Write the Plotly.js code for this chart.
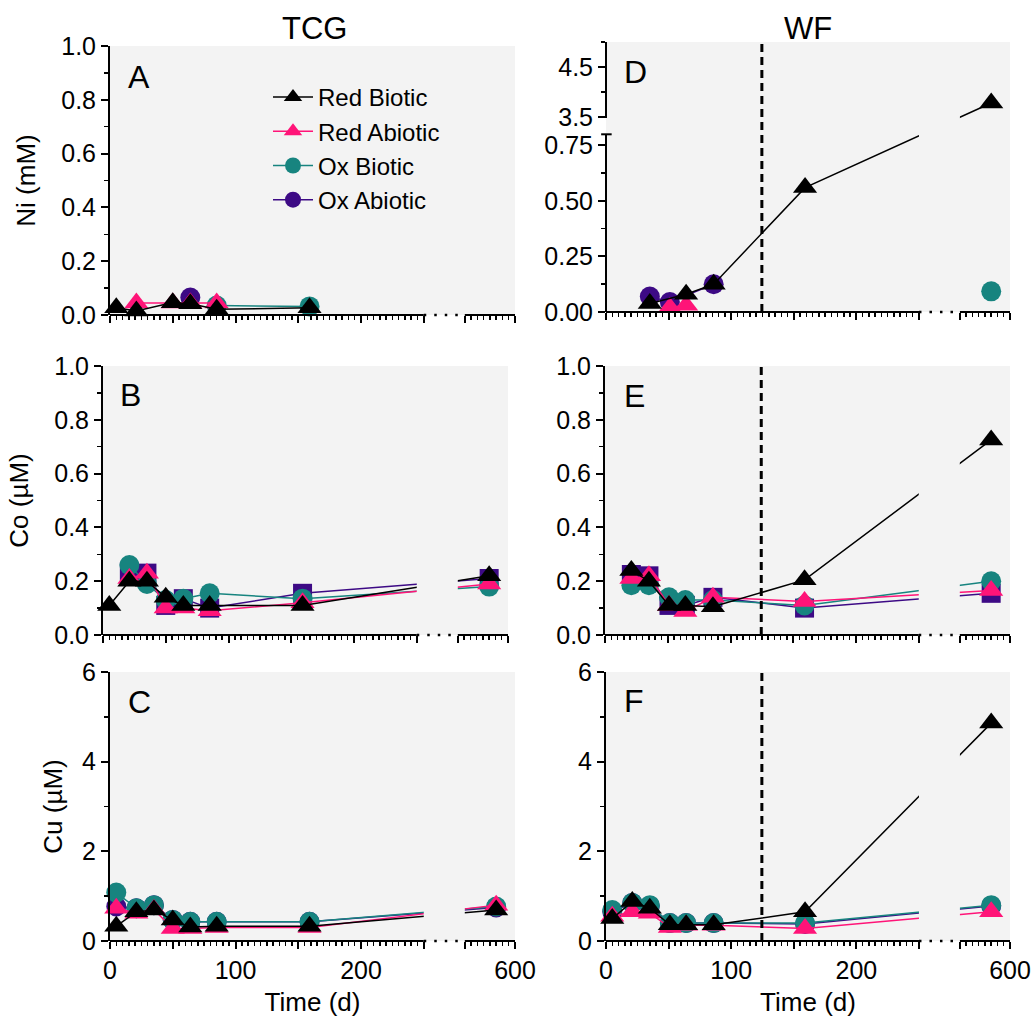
<!DOCTYPE html>
<html>
<head>
<meta charset="utf-8">
<script src="https://cdn.plot.ly/plotly-3.0.1.min.js"></script>
<style>
html,body{margin:0;padding:0;background:#ffffff;}
#chart{width:1033px;height:1017px;}
</style>
</head>
<body>
<div id="chart"></div>
<script>
// ================= DATA =================
const seriesNames = ['Red Biotic', 'Red Abiotic', 'Ox Biotic', 'Ox Abiotic'];
const columnTitles = ['TCG', 'WF'];
const panelLetters = ['A', 'B', 'C', 'D', 'E', 'F'];
const yTitles = ['Ni (mM)', 'Co (µM)', 'Cu (µM)'];
const xTitle = 'Time (d)';

// sampling days (the last sample sits on the far side of the axis break)
const daysTCG = [5, 21, 35, 50, 64, 85, 159, 585];
const daysWF  = [5, 21, 35, 51, 64, 86, 159, 585];

// Panel A: Ni (mM), TCG
const niTCG_redBiotic  = [0.027, 0.015, null, 0.046, 0.042, 0.021, 0.027, null];
const niTCG_redAbiotic = [null, 0.045, null, 0.045, 0.045, 0.045, null, null];
const niTCG_oxBiotic   = [null, null, null, null, null, 0.035, 0.032, null];
const niTCG_oxAbiotic  = [null, null, null, null, 0.065, null, null, null];

// Panel B: Co (µM), TCG
const coTCG_redBiotic  = [0.11, 0.20, 0.20, 0.14, 0.11, 0.11, 0.11, 0.22];
const coTCG_redAbiotic = [null, 0.21, 0.23, 0.10, 0.10, 0.09, 0.12, 0.19];
const coTCG_oxBiotic   = [null, 0.26, 0.19, 0.13, 0.135, 0.155, 0.135, 0.18];
const coTCG_oxAbiotic  = [null, 0.235, 0.23, 0.11, 0.135, 0.10, 0.155, 0.21];

// Panel C: Cu (µM), TCG
const cuTCG_redBiotic  = [0.33, 0.65, 0.69, 0.47, 0.31, 0.33, 0.33, 0.69];
const cuTCG_redAbiotic = [0.73, 0.62, 0.70, 0.28, 0.28, 0.30, 0.30, 0.80];
const cuTCG_oxBiotic   = [1.08, 0.73, 0.80, 0.47, 0.43, 0.43, 0.43, 0.77];
const cuTCG_oxAbiotic  = [0.77, 0.73, 0.80, 0.47, 0.43, 0.43, 0.43, 0.75];

// Panel D: Ni (mM), WF
const niWF_redBiotic  = [null, null, 0.038, null, 0.08, 0.125, 0.56, 3.78];
const niWF_redAbiotic = [null, null, null, 0.02, 0.03, null, null, null];
const niWF_oxBiotic   = [null, null, null, null, null, null, null, 0.093];
const niWF_oxAbiotic  = [null, null, 0.07, 0.045, null, 0.125, null, null];

// Panel E: Co (µM), WF
const coWF_redBiotic  = [null, 0.24, 0.20, 0.11, 0.11, 0.105, 0.205, 0.725];
const coWF_redAbiotic = [null, 0.21, 0.22, 0.11, 0.087, 0.14, 0.125, 0.165];
const coWF_oxBiotic   = [null, 0.185, 0.185, 0.14, 0.13, 0.13, 0.11, 0.20];
const coWF_oxAbiotic  = [null, 0.225, 0.22, 0.11, 0.11, 0.14, 0.10, 0.155];

// Panel F: Cu (µM), WF
const cuWF_redBiotic  = [0.50, 0.88, 0.73, 0.36, 0.36, 0.36, 0.65, 4.86];
const cuWF_redAbiotic = [0.55, 0.65, 0.62, 0.30, 0.35, 0.35, 0.28, 0.65];
const cuWF_oxBiotic   = [0.69, 0.85, 0.80, 0.40, 0.40, 0.40, 0.40, 0.80];
const cuWF_oxAbiotic  = [0.65, 0.85, 0.78, 0.40, 0.40, 0.40, 0.38, 0.78];

// tick labels
const xTickVals  = [0, 50, 100, 150, 200, 250, 560, 600];
const xTickText  = ['0', '', '100', '', '200', '', '', '600'];
const niWFTickVals = [0, 0.25, 0.5, 0.75, 3.5, 4.5];
const niWFTickText = ['0.00', '0.25', '0.50', '0.75', '3.5', '4.5'];
const niWFMinorVals = [0.125, 0.375, 0.625, 4.0, 5.0];

// day of the vertical dashed marker in the WF column
const WF_MARKER_DAY = 124.5;

// ================= STYLE / GEOMETRY =================
const W = 1033, H = 1017;
const FONT = 'Liberation Sans, Arial, Helvetica, sans-serif';
const BG = '#f3f3f3';
const seriesColors = ['#000000', '#ff1478', '#17847f', '#3d0a85'];
const seriesSymbols = ['triangle-up', 'triangle-up', 'circle', 'circle'];
const seriesSizes = [21, 21, 20, 20];
const SQUARE_SIZE = 19;

// broken x axis: [0,250] then [560,600]
const SEG1_END = 250, SEG2_START = 560, SEG2_END = 600, XGAP = 32.7;
function mapX(d) { return d <= SEG1_END ? d : SEG1_END + XGAP + (d - SEG2_START); }
const XMAX = mapX(SEG2_END);

// broken y axis for panel D: [0,0.8] then [3.5,5.0]
const YD_LOW_END = 0.8, YD_HIGH_START = 3.5, YD_HIGH_END = 5.0, YD_GAP = 0.078, YD_HIGH_SCALE = 0.225;
function mapYD(v) {
  if (v === null) return null;
  return v <= YD_LOW_END ? v : YD_LOW_END + YD_GAP + (v - YD_HIGH_START) * YD_HIGH_SCALE;
}

const panels = [
  {days: daysTCG, series: [niTCG_redBiotic, niTCG_redAbiotic, niTCG_oxBiotic, niTCG_oxAbiotic],
   px: [110, 515], py: [46, 315], ymax: 1, dtick: 0.2, minor: 0.1, fmt: '.1f', yTitle: yTitles[0], bottom: false, oxAbSymbol: 'circle', letterPos: [126, 77]},
  {days: daysTCG, series: [coTCG_redBiotic, coTCG_redAbiotic, coTCG_oxBiotic, coTCG_oxAbiotic],
   px: [103, 508], py: [366, 635], ymax: 1, dtick: 0.2, minor: 0.1, fmt: '.1f', yTitle: yTitles[1], bottom: false, oxAbSymbol: 'square', letterPos: [118, 395]},
  {days: daysTCG, series: [cuTCG_redBiotic, cuTCG_redAbiotic, cuTCG_oxBiotic, cuTCG_oxAbiotic],
   px: [110, 515], py: [672, 941], ymax: 6, dtick: 2, minor: 1, fmt: 'd', yTitle: yTitles[2], bottom: true, oxAbSymbol: 'circle', letterPos: [126, 702]},
  {days: daysWF, series: [niWF_redBiotic, niWF_redAbiotic, niWF_oxBiotic, niWF_oxAbiotic],
   px: [606, 1010], py: [42, 312], broken: true, yTitle: null, bottom: false, oxAbSymbol: 'circle', letterPos: [622, 72], wf: true},
  {days: daysWF, series: [coWF_redBiotic, coWF_redAbiotic, coWF_oxBiotic, coWF_oxAbiotic],
   px: [605, 1010], py: [366, 635], ymax: 1, dtick: 0.2, minor: 0.1, fmt: '.1f', yTitle: null, bottom: false, oxAbSymbol: 'square', letterPos: [622, 396], wf: true},
  {days: daysWF, series: [cuWF_redBiotic, cuWF_redAbiotic, cuWF_oxBiotic, cuWF_oxAbiotic],
   px: [606, 1010], py: [672, 941], ymax: 6, dtick: 2, minor: 1, fmt: 'd', yTitle: null, bottom: true, oxAbSymbol: 'circle', letterPos: [622, 701], wf: true}
];

// minor x ticks every 5 d
const xMinor = [];
for (let d = 5; d < SEG1_END; d += 5) if (d % 50 !== 0) xMinor.push(d);
for (let d = SEG2_START + 5; d < SEG2_END; d += 5) xMinor.push(mapX(d));

const data = [];
const layout = {
  width: W, height: H,
  margin: {l: 0, r: 0, t: 0, b: 0},
  paper_bgcolor: '#ffffff',
  plot_bgcolor: BG,
  font: {family: FONT, color: '#000', size: 25},
  showlegend: true,
  legend: {
    x: 268 / W, y: 1 - 75 / H, xanchor: 'left', yanchor: 'top',
    bgcolor: 'rgba(0,0,0,0)', borderwidth: 0,
    font: {family: FONT, size: 24, color: '#000'},
    itemwidth: 40, tracegroupgap: 0
  },
  shapes: [],
  annotations: []
};

panels.forEach((p, k) => {
  const i = k + 1;
  const sfx = i === 1 ? '' : String(i);
  const xa = 'x' + sfx, ya = 'y' + sfx;
  const yfun = p.broken ? mapYD : (v => v);

  // traces: drawn purple, teal, pink, black (black on top)
  [3, 2, 1, 0].forEach(s => {
    const sym = s === 3 ? p.oxAbSymbol : seriesSymbols[s];
    data.push({
      type: 'scatter', mode: 'lines+markers',
      name: seriesNames[s],
      x: p.days.map(mapX),
      y: p.series[s].map(yfun),
      xaxis: xa, yaxis: ya,
      connectgaps: true, cliponaxis: false,
      line: {color: seriesColors[s], width: 1.5},
      marker: {symbol: sym, size: sym === 'square' ? SQUARE_SIZE : seriesSizes[s], color: seriesColors[s], line: {width: 0}},
      showlegend: i === 1, legendrank: s + 1,
      hoverinfo: 'skip'
    });
  });

  layout['xaxis' + sfx] = {
    domain: [p.px[0] / W, p.px[1] / W], anchor: ya,
    range: [0, XMAX], showline: false, zeroline: false, showgrid: false,
    tickmode: 'array', tickvals: xTickVals.map(mapX), ticktext: xTickText,
    ticks: 'outside', ticklen: 7, tickwidth: 2, tickcolor: '#000',
    showticklabels: p.bottom,
    tickfont: {family: FONT, size: 25, color: '#000'},
    minor: {tickmode: 'array', tickvals: xMinor, ticks: 'outside', ticklen: 4, tickwidth: 1.5, tickcolor: '#000', showgrid: false},
    title: p.bottom ? {text: xTitle, font: {family: FONT, size: 26, color: '#000'}, standoff: 14} : {text: ''},
    fixedrange: true
  };

  const yax = {
    domain: [1 - p.py[1] / H, 1 - p.py[0] / H], anchor: xa,
    zeroline: false, showgrid: false,
    ticks: 'outside', ticklen: 7, tickwidth: 2, tickcolor: '#000',
    tickfont: {family: FONT, size: 25, color: '#000'},
    title: p.yTitle ? {text: p.yTitle, font: {family: FONT, size: 26, color: '#000'}, standoff: p.dtick === 2 ? 12 : 18} : {text: ''},
    fixedrange: true
  };
  if (p.broken) {
    Object.assign(yax, {
      range: [0, mapYD(YD_HIGH_END)], showline: false,
      tickmode: 'array', tickvals: niWFTickVals.map(mapYD), ticktext: niWFTickText,
      minor: {tickmode: 'array', tickvals: niWFMinorVals.map(mapYD), ticks: 'outside', ticklen: 4, tickwidth: 1.5, tickcolor: '#000', showgrid: false}
    });
  } else {
    Object.assign(yax, {
      range: [0, p.ymax], showline: true, linewidth: 2, linecolor: '#000',
      tickmode: 'linear', tick0: 0, dtick: p.dtick, tickformat: p.fmt,
      minor: {dtick: p.minor, ticks: 'outside', ticklen: 4, tickwidth: 1.5, tickcolor: '#000', showgrid: false}
    });
  }
  layout['yaxis' + sfx] = yax;

  const yd = ya + ' domain', xd = xa + ' domain';
  // hide lines inside the x break
  layout.shapes.push({type: 'rect', xref: xa, yref: yd, x0: SEG1_END, x1: SEG1_END + XGAP, y0: 0, y1: 1,
    fillcolor: BG, line: {width: 0}, layer: 'above'});
  // broken x axis line
  layout.shapes.push({type: 'line', xref: xa, yref: yd, x0: 0, x1: SEG1_END, y0: 0, y1: 0, line: {color: '#000', width: 2}, layer: 'above'});
  layout.shapes.push({type: 'line', xref: xa, yref: yd, x0: SEG1_END, x1: SEG1_END + XGAP, y0: 0, y1: 0, line: {color: '#000', width: 2.5, dash: '2.5px,8px'}, layer: 'above'});
  layout.shapes.push({type: 'line', xref: xa, yref: yd, x0: SEG1_END + XGAP, x1: XMAX, y0: 0, y1: 0, line: {color: '#000', width: 2}, layer: 'above'});
  if (p.broken) {
    layout.shapes.push({type: 'line', xref: xd, yref: ya, x0: 0, x1: 0, y0: 0, y1: YD_LOW_END, line: {color: '#000', width: 2}, layer: 'above'});
    layout.shapes.push({type: 'line', xref: xd, yref: ya, x0: -0.012, x1: 0.014, y0: YD_LOW_END, y1: YD_LOW_END, line: {color: '#000', width: 2}, layer: 'above'});
    layout.shapes.push({type: 'line', xref: xd, yref: ya, x0: 0, x1: 0, y0: mapYD(3.48), y1: mapYD(YD_HIGH_END), line: {color: '#000', width: 2}, layer: 'above'});
  }
  if (p.wf) {
    layout.shapes.push({type: 'line', xref: xa, yref: yd, x0: WF_MARKER_DAY, x1: WF_MARKER_DAY, y0: 0, y1: 1,
      line: {color: '#000', width: 3, dash: '8px,5px'}, layer: 'above'});
  }
  // panel letter
  layout.annotations.push({text: panelLetters[k], xref: 'paper', yref: 'paper',
    x: p.letterPos[0] / W, y: 1 - p.letterPos[1] / H, xanchor: 'left', yanchor: 'middle',
    showarrow: false, font: {family: FONT, size: 32, color: '#000'}});
});

// column titles
layout.annotations.push({text: columnTitles[0], xref: 'paper', yref: 'paper', x: 314 / W, y: 1 - 28 / H,
  xanchor: 'center', yanchor: 'middle', showarrow: false, font: {family: FONT, size: 31, color: '#000'}});
layout.annotations.push({text: columnTitles[1], xref: 'paper', yref: 'paper', x: 808 / W, y: 1 - 28 / H,
  xanchor: 'center', yanchor: 'middle', showarrow: false, font: {family: FONT, size: 31, color: '#000'}});

Plotly.newPlot('chart', data, layout, {staticPlot: true, displayModeBar: false});
</script>
</body>
</html>
